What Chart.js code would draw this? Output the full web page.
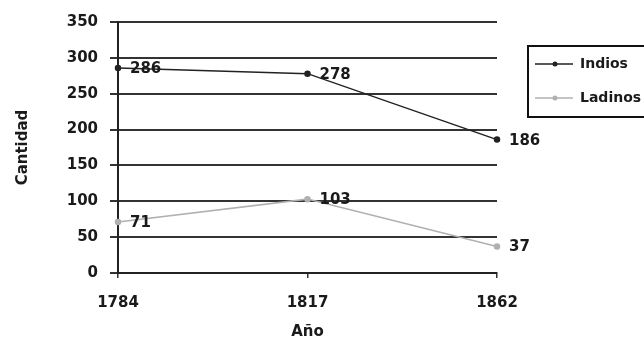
<!DOCTYPE html>
<html lang="es">
  <head>
    <meta charset="UTF-8" />
    <title>Indios y Ladinos</title>
    <script src="https://cdn.jsdelivr.net/npm/chart.js"></script>
    <style>
      html, body { margin: 0; padding: 0; background: #fff; }
      #wrap { width: 644px; height: 343px; position: relative; }
    </style>
  </head>
  <body>
    <div id="wrap"><canvas id="chart"></canvas></div>
    <script>
      const years = ["1784", "1817", "1862"];
      const indios = [286, 278, 186];
      const ladinos = [71, 103, 37];
      const yTicks = [0, 50, 100, 150, 200, 250, 300, 350];

      const FONT = "'DejaVu Sans'";

      // value labels to the right of each point
      const valueLabels = {
        id: "valueLabels",
        afterDatasetsDraw(chart) {
          const ctx = chart.ctx;
          ctx.save();
          ctx.font = "bold 15px " + FONT;
          ctx.fillStyle = "#1a1a1a";
          ctx.textBaseline = "middle";
          chart.data.datasets.forEach((ds, i) => {
            chart.getDatasetMeta(i).data.forEach((pt, j) => {
              ctx.fillText(String(ds.data[j]), pt.x + 12, pt.y + 1);
            });
          });
          ctx.restore();
        }
      };

      // boxed legend on the right, cut by the edge like the original
      const boxLegend = {
        id: "boxLegend",
        afterDraw(chart) {
          const ctx = chart.ctx;
          const x = 528, y = 46, w = 130, h = 71;
          ctx.save();
          ctx.strokeStyle = "#111";
          ctx.lineWidth = 2;
          ctx.strokeRect(x, y, w, h);
          ctx.font = "bold 14px " + FONT;
          ctx.textBaseline = "middle";
          chart.data.datasets.forEach((ds, i) => {
            const ly = y + 18 + i * 34;
            ctx.strokeStyle = ds.borderColor;
            ctx.lineWidth = 1.5;
            ctx.beginPath();
            ctx.moveTo(x + 7, ly);
            ctx.lineTo(x + 45, ly);
            ctx.stroke();
            ctx.fillStyle = ds.borderColor;
            ctx.beginPath();
            ctx.arc(x + 27, ly, 2.5, 0, Math.PI * 2);
            ctx.fill();
            ctx.fillStyle = "#1a1a1a";
            ctx.fillText(ds.label, x + 52, ly);
          });
          ctx.restore();
        }
      };

      new Chart(document.getElementById("chart"), {
        type: "line",
        data: {
          labels: years,
          datasets: [
            {
              label: "Indios",
              data: indios,
              borderColor: "#222",
              backgroundColor: "#222",
              borderWidth: 1.5,
              pointRadius: 2.5,
              pointStyle: "circle",
              tension: 0
            },
            {
              label: "Ladinos",
              data: ladinos,
              borderColor: "#b0b0b0",
              backgroundColor: "#b0b0b0",
              borderWidth: 1.5,
              pointRadius: 2.5,
              pointStyle: "circle",
              tension: 0
            }
          ]
        },
        options: {
          responsive: true,
          maintainAspectRatio: false,
          animation: false,
          layout: { padding: { top: 22, right: 147, bottom: 0, left: 0 } },
          plugins: {
            legend: { display: false },
            tooltip: { enabled: false }
          },
          scales: {
            x: {
              offset: false,
              grid: { display: true, drawOnChartArea: false, drawTicks: true, tickLength: 5, color: "#333", lineWidth: 1.5 },
              border: { display: true, color: "#222", width: 2 },
              ticks: { color: "#1a1a1a", font: { family: FONT, size: 15, weight: "bold" }, padding: 16, maxRotation: 0 },
              title: { display: true, text: "Año", color: "#1a1a1a", font: { family: FONT, size: 15, weight: "bold" }, padding: { top: 2, bottom: 2 } },
              afterFit(scale) { scale.height = 70; }
            },
            y: {
              min: 0,
              max: 350,
              afterBuildTicks(scale) { scale.ticks = yTicks.map(v => ({ value: v })); },
              grid: { color: "#333", lineWidth: 2, tickLength: 8 },
              border: { display: true, color: "#222", width: 2 },
              ticks: { color: "#1a1a1a", font: { family: FONT, size: 15, weight: "bold" }, padding: 12 },
              title: { display: true, text: "Cantidad", color: "#1a1a1a", font: { family: FONT, size: 15, weight: "bold" }, padding: { top: 14, bottom: 18 } },
              afterFit(scale) { scale.width = 118; }
            }
          }
        },
        plugins: [valueLabels, boxLegend]
      });
    </script>
  </body>
</html>
